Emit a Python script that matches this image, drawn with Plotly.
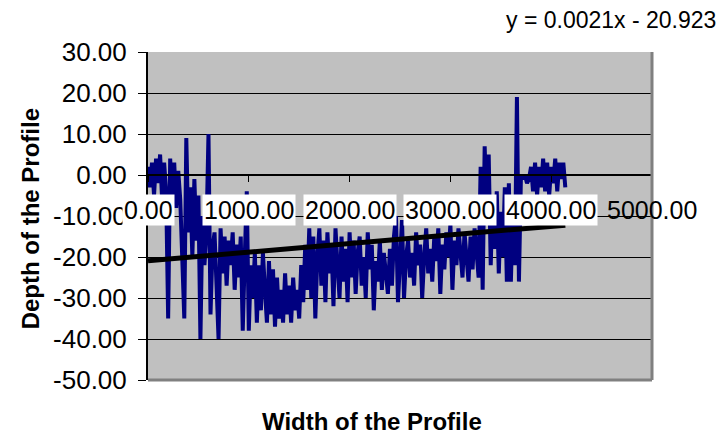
import plotly.graph_objects as go

# profile samples (one every 20 units of width)
sample_step = 20
depth_values = [
    2, -3, 3, -5, 4, -2, 5, -6, 3, -4, -35, 4, -7, 3, -8, 1,
    -6, -18, -35, 9, -14, -3, -20, -1, -16, -5, -40, -10, -22, -14, 10, -34, -18,
    -14, -26, -40, -13, -24, -15, -27, -16, -22, -14, -28, -17, -25, -15, -38, -20, -4, -38, -22,
    -30, -19, -36, -22, -33, -19, -28, -36, -21, -34, -23, -37, -25, -35, -28, -36, -24, -34, -27,
    -36, -25, -33, -28, -35, -22, -31, -17, -28, -13,
    -30, -15, -35, -20, -13, -27, -16, -31, -14, -24, -17, -32, -13, -22, -30, -15, -26, -18, -31,
    -14, -25, -16, -29, -19, -15, -27, -20, -30, -14, -23, -17, -33, -21, -26, -16, -28, -19, -24,
    -29, -18, -27, -15, -10, -31, -22, -11, -30, -20,
    -16, -25, -19, -27, -14, -22, -17, -30, -20, -13, -24, -18, -26, -15, -21, -13, -29, -17, -23,
    -14, -20, -12, -28, -16, -22, -13, -19, -25, -14, -21, -26, -15, -23, -13, -20,
    -25, 2, -28, 7, -10, 5, -22, -5, -18, -4, -24, -9, -20, -3, -26, -2, -26, -8, -22, 19, -26, 0,
    -1, 0, -2, -1, 2, -4, 3, -5, 2, -3, 4, -4, 3, -5, 2, -2, 4, -4, 3, -1, 3, -3,
]
width_values = [i * sample_step for i in range(len(depth_values))]

# linear trendline shown on the chart
trend_slope = 0.0021
trend_intercept = -20.923

x_ticks = [0, 1000, 2000, 3000, 4000, 5000]
y_ticks = [-50, -40, -30, -20, -10, 0, 10, 20, 30]

font_name = "Liberation Sans, Arial, sans-serif"

trend_x = [width_values[0], width_values[-1]]
trend_y = [trend_slope * x + trend_intercept for x in trend_x]

fig = go.Figure()
fig.add_trace(go.Scatter(x=width_values, y=depth_values, mode="lines",
                         line=dict(color="#000080", width=4), showlegend=False))
fig.add_trace(go.Scatter(x=trend_x, y=trend_y, mode="lines",
                         line=dict(color="black", width=5), showlegend=False))

# x tick labels sit just below the axis that crosses at y = 0
annotations = []
for t in x_ticks:
    annotations.append(dict(x=t, y=0, xref="x", yref="y", text="%.2f" % t, showarrow=False,
                            yshift=-35, xanchor="center", yanchor="middle",
                            font=dict(family=font_name, size=25, color="black"),
                            bgcolor="white" if t < 5000 else "rgba(0,0,0,0)", borderpad=1))
annotations.append(dict(x=-0.234, y=0.49, xref="paper", yref="paper", text="<b>Depth of the Profile</b>",
                        textangle=-90, showarrow=False, xanchor="center", yanchor="middle",
                        font=dict(family=font_name, size=24, color="black")))
annotations.append(dict(x=0.444, y=-0.125, xref="paper", yref="paper", text="<b>Width of the Profile</b>",
                        showarrow=False, xanchor="center", yanchor="middle",
                        font=dict(family=font_name, size=24, color="black")))
annotations.append(dict(x=1.131, y=1.098, xref="paper", yref="paper", text="y = 0.0021x - 20.923",
                        showarrow=False, xanchor="right", yanchor="middle",
                        font=dict(family=font_name, size=23, color="black")))

# the page adds an 8px body margin, so margins are trimmed by 8 on the left and top
fig.update_layout(
    width=726, height=438,
    margin=dict(l=140, r=82, t=44, b=66),
    paper_bgcolor="white", plot_bgcolor="#C0C0C0",
    annotations=annotations,
    shapes=[
        dict(type="line", xref="paper", yref="paper", x0=1, x1=1, y0=0, y1=1,
             line=dict(color="#808080", width=3), layer="above"),
        dict(type="line", xref="paper", yref="paper", x0=0, x1=1, y0=0, y1=0,
             line=dict(color="#808080", width=3), layer="above"),
    ],
    xaxis=dict(range=[0, 5000], dtick=1000, showgrid=False, zeroline=False,
               anchor="free", position=0.625, showline=True, linecolor="black", linewidth=1.5,
               ticks="outside", ticklen=6, tickcolor="black", showticklabels=False),
    yaxis=dict(range=[-50, 30], tickvals=y_ticks, ticktext=["%.2f" % v for v in y_ticks],
               showgrid=True, gridcolor="black", gridwidth=1, zeroline=False,
               showline=True, linecolor="black", linewidth=2,
               ticks="outside", ticklen=8, tickcolor="black", ticklabelstandoff=6,
               tickfont=dict(family=font_name, size=26, color="black")),
)

fig.write_html("out.html")
